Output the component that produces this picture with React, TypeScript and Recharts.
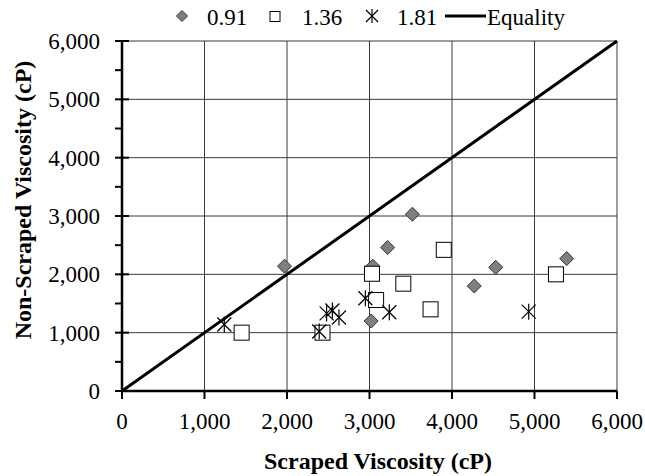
import React from "react";
import {
  ScatterChart,
  Scatter,
  XAxis,
  YAxis,
  CartesianGrid,
} from "recharts";

// shear-rate groups (legend labels)
const seriesNames = ["0.91", "1.36", "1.81"];

// scraped (x) vs non-scraped (y) viscosity, cP
const x091 = [1970, 3040, 3020, 3220, 3520, 4270, 4530, 5390];
const y091 = [2140, 2140, 1200, 2460, 3030, 1800, 2120, 2270];

const x136 = [1450, 2430, 3030, 3080, 3410, 3740, 3900, 5260];
const y136 = [1000, 1000, 2010, 1560, 1840, 1400, 2420, 2000];

const x181 = [1240, 2390, 2480, 2550, 2630, 2950, 3240, 4930];
const y181 = [1140, 1020, 1330, 1380, 1260, 1590, 1350, 1360];

const equalityX = [0, 6000];
const equalityY = [0, 6000];

const xTicks = [0, 1000, 2000, 3000, 4000, 5000, 6000];
const yTicks = [0, 500, 1000, 1500, 2000, 2500, 3000, 3500, 4000, 4500, 5000, 5500, 6000];
const gridValues = [0, 1000, 2000, 3000, 4000, 5000, 6000];

const toPoints = (xs: number[], ys: number[]) => xs.map((x, i) => ({ x, y: ys[i] }));

const data091 = toPoints(x091, y091);
const data136 = toPoints(x136, y136);
const data181 = toPoints(x181, y181);
const equalityData = toPoints(equalityX, equalityY);

const txt = { fontFamily: "Liberation Serif", fontSize: 23 } as const;
const bold = { fontFamily: "Liberation Serif", fontSize: 24, fontWeight: 700 } as const;
const fmt = (v: number) => v.toLocaleString("en-US");

const Diamond = ({ cx, cy, r = 7 }: any) => (
  <polygon
    points={`${cx},${cy - r} ${cx + r},${cy} ${cx},${cy + r} ${cx - r},${cy}`}
    fill="#7f7f7f"
    stroke="#333"
    strokeWidth={1}
  />
);

const Square = ({ cx, cy, r = 7.5 }: any) => (
  <rect x={cx - r} y={cy - r} width={2 * r} height={2 * r} fill="#fff" stroke="#000" strokeWidth={1} />
);

const Asterisk = ({ cx, cy, r = 7 }: any) => (
  <g stroke="#000" strokeWidth={1.2}>
    <line x1={cx - r} y1={cy - r} x2={cx + r} y2={cy + r} />
    <line x1={cx - r} y1={cy + r} x2={cx + r} y2={cy - r} />
    <line x1={cx} y1={cy - r - 1} x2={cx} y2={cy + r + 1} />
  </g>
);

const YTick = ({ x, y, payload }: any) => {
  const major = payload.value % 1000 === 0;
  return (
    <g>
      <line x1={x - 7} y1={y} x2={major ? x + 7 : x} y2={y} stroke="#000" strokeWidth={2} />
      {major && (
        <text x={x - 22} y={y} dy={8} textAnchor="end" style={txt} fill="#000">
          {fmt(payload.value)}
        </text>
      )}
    </g>
  );
};

const XTick = ({ x, y, payload }: any) => (
  <g>
    <line x1={x} y1={y} x2={x} y2={y + 8} stroke="#000" strokeWidth={2} />
    <text x={x} y={y} dy={38} textAnchor="middle" style={txt} fill="#000">
      {fmt(payload.value)}
    </text>
  </g>
);

const Legend = () => (
  <svg width={645} height={32} style={{ position: "absolute", left: 0, top: 0 }}>
    <g style={txt} fill="#000">
      <Diamond cx={182} cy={16} r={5.5} />
      <text x={207} y={25}>{seriesNames[0]}</text>
      <Square cx={275} cy={16.5} r={5} />
      <text x={302} y={25}>{seriesNames[1]}</text>
      <Asterisk cx={372} cy={16} r={6} />
      <text x={397} y={25}>{seriesNames[2]}</text>
      <line x1={445} y1={16} x2={486} y2={16} stroke="#000" strokeWidth={3} />
      <text x={487} y={25}>Equality</text>
    </g>
  </svg>
);

export default function App() {
  return (
    <div style={{ position: "absolute", left: 0, top: 0, width: 645, height: 476, background: "#fff" }}>
      <ScatterChart width={645} height={476} margin={{ top: 41, right: 28, bottom: 0, left: 0 }}>
        <CartesianGrid
          stroke="#3a3a3a"
          strokeWidth={1}
          horizontalValues={gridValues}
          verticalValues={gridValues}
        />
        <XAxis
          type="number"
          dataKey="x"
          domain={[0, 6000]}
          ticks={xTicks}
          height={85}
          tickLine={false}
          tickSize={0}
          tickMargin={0}
          axisLine={{ stroke: "#000", strokeWidth: 2.5 }}
          tick={<XTick />}
          interval={0}
          label={({ viewBox }: any) => (
            <text x={378} y={viewBox.y + 78} textAnchor="middle" style={bold} fill="#000">
              Scraped Viscosity (cP)
            </text>
          )}
        />
        <YAxis
          type="number"
          dataKey="y"
          domain={[0, 6000]}
          ticks={yTicks}
          width={122}
          tickLine={false}
          tickSize={0}
          tickMargin={0}
          axisLine={{ stroke: "#000", strokeWidth: 2.5 }}
          tick={<YTick />}
          interval={0}
          label={() => {
            const cx = 31;
            const cy = 200;
            return (
              <text
                x={cx}
                y={cy}
                transform={`rotate(-90 ${cx} ${cy})`}
                textAnchor="middle"
                style={bold}
                fill="#000"
              >
                Non-Scraped Viscosity (cP)
              </text>
            );
          }}
        />
        <Scatter
          name="Equality"
          data={equalityData}
          line={{ stroke: "#000", strokeWidth: 3 }}
          shape={() => <g />}
          isAnimationActive={false}
        />
        <Scatter name={seriesNames[0]} data={data091} shape={<Diamond />} isAnimationActive={false} />
        <Scatter name={seriesNames[1]} data={data136} shape={<Square />} isAnimationActive={false} />
        <Scatter name={seriesNames[2]} data={data181} shape={<Asterisk />} isAnimationActive={false} />
      </ScatterChart>
      <Legend />
    </div>
  );
}
